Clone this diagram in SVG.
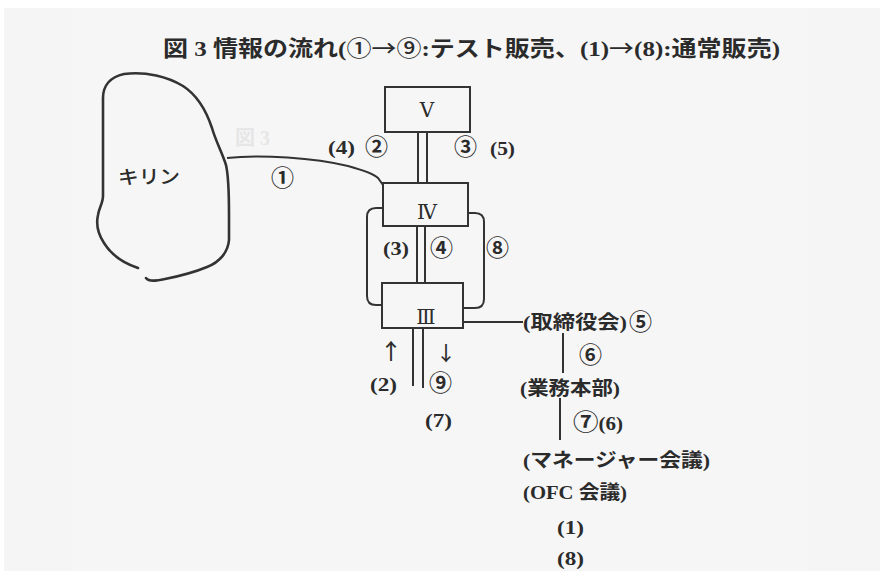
<svg xmlns="http://www.w3.org/2000/svg" width="880" height="571" viewBox="0 0 880 571">
  <style>
    .t { font-family: "Liberation Serif", "DejaVu Serif", "Noto Sans CJK JP", serif; fill: #2b2b2b; font-weight: bold; }
    .n { font-family: "Liberation Serif", "DejaVu Serif", serif; fill: #2b2b2b; }
    .cj { font-family: "Noto Sans CJK JP", "Liberation Serif", sans-serif; fill: #2b2b2b; font-weight: 500; }
    .c { font-family: "Noto Sans CJK JP", sans-serif; fill: #2b2b2b; font-weight: bold; font-size: 23px; }
    .box { fill: none; stroke: #333; stroke-width: 2; }
    .ln { fill: none; stroke: #333; stroke-width: 2; }
    .hand { fill: none; stroke: #333; stroke-width: 2.6; stroke-linecap: round; stroke-linejoin: round; }
  </style>

  <!-- paper -->
  <rect x="0" y="0" width="880" height="571" fill="#ffffff"/>
  <rect x="4" y="8" width="876" height="563" fill="#f5f5f5"/>
  <rect x="72" y="8" width="735" height="563" fill="#f6f6f6"/>
  <text class="t" x="235" y="145" font-size="20" style="fill:#e6e6e6">図 3</text>

  <!-- title -->
  <text class="t" x="163" y="56" font-size="22" textLength="617" lengthAdjust="spacingAndGlyphs">図 3 情報の流れ(<tspan class="cj" font-weight="bold">①→⑨</tspan>:テスト販売、(1)<tspan class="cj">→</tspan>(8):通常販売)</text>

  <!-- Kirin -->
  <g id="kirin">
    <path class="hand" d="M138,268 C126,264 112,256 104,243 C98,234 96,224 98,215 C99,208 103,203 103,196 L103,98 C103,86 110,77 124,74 C146,71 168,77 183,86 C197,95 206,110 212,128 C216,142 222,152 226,165 C229,178 229,195 229,215 L229,240 C228,252 220,262 207,267 C195,272 180,276 165,279 C156,281 149,282 146,278"/>
    <text class="cj" x="118" y="184" font-size="19" textLength="62" lengthAdjust="spacingAndGlyphs">キリン</text>
  </g>

  <!-- connectors -->
  <g id="connectors">
    <!-- Kirin to IV -->
    <path class="ln" d="M227,158 C260,154 315,158 348,166 C366,171 374,174 378,178 L383,185"/>
    <!-- V to IV double line -->
    <line class="ln" x1="418" y1="132" x2="418" y2="183"/>
    <line class="ln" x1="427" y1="132" x2="427" y2="183"/>
    <!-- IV to III double line -->
    <line class="ln" x1="417" y1="226" x2="417" y2="283"/>
    <line class="ln" x1="425" y1="226" x2="425" y2="283"/>
    <!-- side loops between IV and III -->
    <path class="ln" d="M383,208 L376,208 Q367,208 367,217 L367,296 Q367,305 376,305 L382,305"/>
    <path class="ln" d="M468,213 L475,213 Q484,213 484,222 L484,299 Q484,308 475,308 L463,308"/>
    <!-- III downward double line -->
    <line class="ln" x1="413" y1="328" x2="413" y2="386"/>
    <line class="ln" x1="423" y1="328" x2="423" y2="388"/>
    <!-- III to board -->
    <line class="ln" x1="463" y1="322" x2="523" y2="322"/>
    <!-- org chain -->
    <line class="ln" x1="563" y1="333" x2="563" y2="373"/>
    <line class="ln" x1="560" y1="398" x2="560" y2="440"/>
  </g>

  <!-- nodes -->
  <g id="node-V">
    <rect class="box" x="385" y="87" width="85" height="45"/>
    <text class="n" x="427" y="117" font-size="20" text-anchor="middle">Ⅴ</text>
  </g>
  <g id="node-IV">
    <rect class="box" x="383" y="183" width="85" height="43"/>
    <text class="n" x="427" y="219" font-size="20" text-anchor="middle">Ⅳ</text>
  </g>
  <g id="node-III">
    <rect class="box" x="382" y="283" width="81" height="45"/>
    <text class="n" x="426" y="324" font-size="20" text-anchor="middle">Ⅲ</text>
  </g>

  <!-- flow labels -->
  <g id="labels" font-size="18">
    <text class="c" x="271" y="186">①</text>
    <text class="t" x="328" y="154" textLength="27" lengthAdjust="spacingAndGlyphs">(4)</text>
    <text class="c" x="365" y="155">②</text>
    <text class="c" x="454" y="155">③</text>
    <text class="t" x="490" y="155" textLength="25" lengthAdjust="spacingAndGlyphs">(5)</text>
    <text class="t" x="383" y="255" textLength="26" lengthAdjust="spacingAndGlyphs">(3)</text>
    <text class="c" x="430" y="256">④</text>
    <text class="c" x="486" y="256">⑧</text>
    <text class="cj" x="380" y="359" font-size="22">↑</text>
    <text class="cj" x="436" y="361" font-size="20">↓</text>
    <text class="t" x="370" y="391" textLength="27" lengthAdjust="spacingAndGlyphs">(2)</text>
    <text class="c" x="429" y="391">⑨</text>
    <text class="t" x="425" y="427" textLength="27" lengthAdjust="spacingAndGlyphs">(7)</text>
  </g>

  <!-- organisation chain -->
  <g id="board">
    <text class="t" x="523" y="329" font-size="19" textLength="104" lengthAdjust="spacingAndGlyphs">(取締役会)</text>
    <text class="c" x="629" y="330">⑤</text>
  </g>
  <text class="c" x="579" y="363">⑥</text>
  <g id="hq">
    <text class="t" x="520" y="395" font-size="19" textLength="100" lengthAdjust="spacingAndGlyphs">(業務本部)</text>
  </g>
  <text class="t" x="573" y="430" font-size="19" textLength="50" lengthAdjust="spacingAndGlyphs"><tspan class="c" font-size="21">⑦</tspan>(6)</text>
  <g id="manager-meeting">
    <text class="t" x="523" y="467" font-size="19" textLength="187" lengthAdjust="spacingAndGlyphs">(マネージャー会議)</text>
  </g>
  <g id="ofc-meeting">
    <text class="t" x="523" y="499" font-size="19" textLength="104" lengthAdjust="spacingAndGlyphs">(OFC 会議)</text>
  </g>
  <text class="t" x="557" y="534" font-size="18" textLength="27" lengthAdjust="spacingAndGlyphs">(1)</text>
  <text class="t" x="557" y="565" font-size="18" textLength="27" lengthAdjust="spacingAndGlyphs">(8)</text>
</svg>
